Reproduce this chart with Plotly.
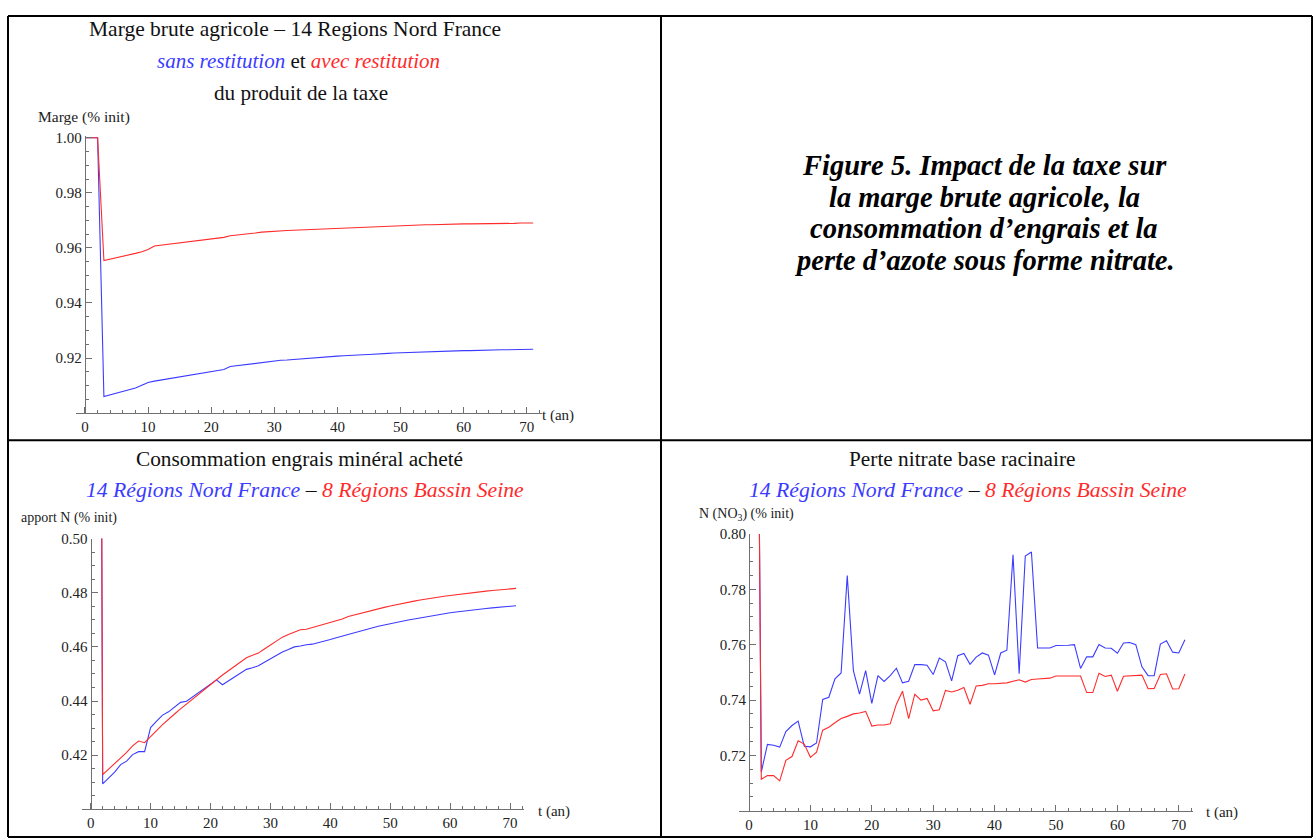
import plotly.graph_objects as go

W, H = 1316, 840

# ---------------- data ----------------
t = list(range(72))

marge_sans = [1.0, 1.0, 1.0, 0.906, 0.9066, 0.9072, 0.9079, 0.9085, 0.9091, 0.9101,
              0.9111, 0.9116, 0.912, 0.9124, 0.9128, 0.9132, 0.9136, 0.914, 0.9144, 0.9147,
              0.915, 0.9154, 0.9158, 0.9169, 0.9172, 0.9175, 0.9178, 0.918, 0.9183, 0.9187,
              0.919, 0.9192, 0.9193, 0.9195, 0.9196, 0.9198, 0.92, 0.9202, 0.9203, 0.9205,
              0.9207, 0.9208, 0.921, 0.9211, 0.9212, 0.9213, 0.9215, 0.9216, 0.9217, 0.9218,
              0.9219, 0.922, 0.9221, 0.9222, 0.9223, 0.9223, 0.9224, 0.9225, 0.9225, 0.9226,
              0.9227, 0.9227, 0.9228, 0.9228, 0.9229, 0.9229, 0.923, 0.923, 0.9231, 0.9231,
              0.9232, 0.9232]
marge_avec = [1.0, 1.0, 1.0, 0.9554, 0.9559, 0.9563, 0.9568, 0.9574, 0.958, 0.9586,
              0.9594, 0.9607, 0.961, 0.9613, 0.9616, 0.9619, 0.9622, 0.9625, 0.9628, 0.9631,
              0.9634, 0.9636, 0.9638, 0.9644, 0.9646, 0.9649, 0.9652, 0.9654, 0.9657, 0.9659,
              0.966, 0.9662, 0.9663, 0.9664, 0.9665, 0.9667, 0.9668, 0.9669, 0.967, 0.9671,
              0.9672, 0.9673, 0.9674, 0.9675, 0.9676, 0.9677, 0.9678, 0.9679, 0.9679, 0.968,
              0.9681, 0.9682, 0.9682, 0.9683, 0.9684, 0.9684, 0.9685, 0.9685, 0.9686, 0.9686,
              0.9687, 0.9687, 0.9687, 0.9688, 0.9688, 0.9688, 0.9689, 0.9689, 0.9689, 0.969,
              0.969, 0.969]

engrais_nord = [1.0, 1.0, 0.4094, 0.4116, 0.4137, 0.4165, 0.4178, 0.4202, 0.4213, 0.4213,
                0.4302, 0.4326, 0.4348, 0.436, 0.4378, 0.4395, 0.4399, 0.4415, 0.4432, 0.4448,
                0.4462, 0.4478, 0.446, 0.4474, 0.4489, 0.4505, 0.4517, 0.4523, 0.453, 0.4543,
                0.4556, 0.4569, 0.4581, 0.459, 0.46, 0.4603, 0.4608, 0.461, 0.4615, 0.462,
                0.4627, 0.4634, 0.464, 0.4648, 0.4654, 0.4659, 0.4665, 0.467, 0.4676, 0.4681,
                0.4686, 0.469, 0.4695, 0.4699, 0.4703, 0.4707, 0.4712, 0.4716, 0.4719, 0.4723,
                0.4726, 0.4729, 0.4732, 0.4735, 0.4738, 0.474, 0.4742, 0.4744, 0.4746, 0.4748,
                0.475, 0.4752]
engrais_seine = [1.0, 1.0, 0.4128, 0.4149, 0.417, 0.4188, 0.421, 0.4234, 0.4252, 0.4246,
                 0.4267, 0.4291, 0.4313, 0.4334, 0.4352, 0.4371, 0.4389, 0.4409, 0.4427, 0.4445,
                 0.4462, 0.4478, 0.4496, 0.4512, 0.4528, 0.4545, 0.456, 0.4569, 0.4577, 0.4592,
                 0.4607, 0.4621, 0.4636, 0.4646, 0.4655, 0.4663, 0.4665, 0.4671, 0.4677, 0.4684,
                 0.469, 0.4697, 0.4703, 0.4712, 0.4718, 0.4724, 0.473, 0.4736, 0.4741, 0.4746,
                 0.4751, 0.4756, 0.4761, 0.4765, 0.4769, 0.4773, 0.4777, 0.478, 0.4784, 0.4787,
                 0.479, 0.4793, 0.4796, 0.4799, 0.4802, 0.4804, 0.4806, 0.4808, 0.481, 0.4812,
                 0.4814, 0.4816]

nitrate_nord = [1.0, 1.0, 0.714, 0.724, 0.7237, 0.723, 0.7286, 0.7308, 0.7324, 0.7233,
                0.7231, 0.7245, 0.7402, 0.741, 0.7477, 0.7498, 0.785, 0.7506, 0.7421, 0.7506,
                0.7388, 0.7488, 0.7467, 0.7488, 0.7515, 0.7462, 0.7468, 0.7528, 0.7528, 0.7526,
                0.7492, 0.7552, 0.7538, 0.7469, 0.756, 0.7568, 0.7529, 0.7555, 0.757, 0.7562,
                0.7491, 0.757, 0.758, 0.7925, 0.7495, 0.792, 0.7935, 0.7588, 0.7588, 0.7588,
                0.7597, 0.7597, 0.7598, 0.76, 0.7514, 0.7556, 0.7556, 0.7601, 0.7588, 0.7587,
                0.7569, 0.7606, 0.7608, 0.76, 0.752, 0.7488, 0.7488, 0.7602, 0.7614, 0.7573,
                0.757, 0.7618]
nitrate_seine = [1.0, 1.0, 0.7114, 0.7127, 0.7127, 0.7108, 0.7182, 0.7196, 0.7253, 0.7241,
                 0.7193, 0.7212, 0.7291, 0.7302, 0.7318, 0.7333, 0.7341, 0.735, 0.7353, 0.7359,
                 0.7306, 0.731, 0.731, 0.7314, 0.7385, 0.7432, 0.7333, 0.7421, 0.74, 0.7406,
                 0.7361, 0.7365, 0.7435, 0.7429, 0.7435, 0.7445, 0.7385, 0.7451, 0.7453, 0.7459,
                 0.7459, 0.7461, 0.7462, 0.7468, 0.7473, 0.7465, 0.7474, 0.7476, 0.7478, 0.7479,
                 0.7487, 0.7487, 0.7487, 0.7487, 0.7487, 0.7427, 0.7427, 0.7497, 0.7485, 0.749,
                 0.7432, 0.7486, 0.7488, 0.749, 0.749, 0.7441, 0.7442, 0.7492, 0.7495, 0.744,
                 0.7441, 0.7494]

x_ticks = [0, 10, 20, 30, 40, 50, 60, 70]
y1_ticks = [0.92, 0.94, 0.96, 0.98, 1.00]
y2_ticks = [0.42, 0.44, 0.46, 0.48, 0.50]
y3_ticks = [0.72, 0.74, 0.76, 0.78, 0.80]

caption_lines = ["Figure 5. Impact de la taxe sur",
                 "la marge brute agricole, la",
                 "consommation d’engrais et la",
                 "perte d’azote sous forme nitrate."]

BLUE = "#3b3bff"
RED = "#ff2b2b"
FONT = "Liberation Serif"
AXC = "#707070"


def fx(p):
    return p / W


def fy(p):
    return 1 - p / H


fig = go.Figure()

panels = [
    dict(xr=[-1.5, 72.4], xp=[75.5, 542], yr=[0.9, 1.0007], yp=[409, 129], yt=y1_ticks,
         s1=marge_sans, s2=marge_avec),
    dict(xr=[-1.4, 72.3], xp=[82.3, 523.8], yr=[0.40, 0.50], yp=[809, 535.7], yt=y2_ticks,
         s1=engrais_nord, s2=engrais_seine),
    dict(xr=[-1.6, 72.3], xp=[739.2, 1192.9], yr=[0.70, 0.80], yp=[810.5, 531], yt=y3_ticks,
         s1=nitrate_nord, s2=nitrate_seine),
]

layout_axes = {}
for i, p in enumerate(panels, start=1):
    sfx = "" if i == 1 else str(i)
    xd = [fx(p["xp"][0]), fx(p["xp"][1])]
    yd = [fy(p["yp"][0]), fy(p["yp"][1])]
    pos = xd[0] + (0 - p["xr"][0]) / (p["xr"][1] - p["xr"][0]) * (xd[1] - xd[0])
    fig.add_trace(go.Scatter(x=t, y=p["s1"], mode="lines", line=dict(color=BLUE, width=1.1),
                             xaxis="x" + sfx, yaxis="y" + sfx, showlegend=False))
    fig.add_trace(go.Scatter(x=t, y=p["s2"], mode="lines", line=dict(color=RED, width=1.1),
                             xaxis="x" + sfx, yaxis="y" + sfx, showlegend=False))
    layout_axes["xaxis" + sfx] = dict(
        domain=xd, range=p["xr"], anchor="y" + sfx, showgrid=False, zeroline=False,
        showline=True, linecolor=AXC, linewidth=1.2, tickvals=x_ticks,
        ticks="inside", ticklen=6, tickcolor=AXC, tickwidth=1,
        tickfont=dict(family=FONT, size=15, color="#222"),
        minor=dict(dtick=2, tick0=0, ticks="inside", ticklen=3, tickcolor=AXC, showgrid=False),
    )
    layout_axes["yaxis" + sfx] = dict(
        domain=yd, range=p["yr"], anchor="free", position=pos, showgrid=False,
        zeroline=False, showline=True, linecolor=AXC, linewidth=1.2,
        tickvals=p["yt"], tickformat=".2f", ticks="inside", ticklen=6, tickcolor=AXC,
        tickwidth=1, tickfont=dict(family=FONT, size=15, color="#222"),
        minor=dict(dtick=0.005, tick0=0, ticks="inside", ticklen=3, tickcolor=AXC,
                   showgrid=False),
    )

annotations = []


def ann(text, x, y, size, anchor="center", color="#111"):
    annotations.append(dict(text=text, x=fx(x), y=fy(y), xref="paper", yref="paper",
                            xanchor=anchor, yanchor="middle", showarrow=False,
                            font=dict(family=FONT, size=size, color=color)))


b = lambda s: f"<span style='color:{BLUE}'>{s}</span>"
r = lambda s: f"<span style='color:{RED}'>{s}</span>"

# top-left
ann("Marge brute agricole – 14 Regions Nord France", 295, 21, 21.5)
ann(f"<i>{b('sans restitution')}</i> et <i>{r('avec restitution')}</i>", 298, 54, 21)
ann("du produit de la taxe", 301, 86, 21.2)
ann("Marge (% init)", 36, 110, 15.5, "left", "#222")
ann("t (an)", 540, 411, 15, "left", "#222")

# bottom-left
ann("Consommation engrais minéral acheté", 299, 455, 21.3)
ann(f"<i>{b('14 Régions Nord France')} – {r('8 Régions Bassin Seine')}</i>", 305, 487, 21.7)
ann("apport N (% init)", 19, 515, 14, "left", "#222")
ann("t (an)", 536, 811, 15, "left", "#222")

# bottom-right
ann("Perte nitrate base racinaire", 962, 455, 21.3)
ann(f"<i>{b('14 Régions Nord France')} – {r('8 Régions Bassin Seine')}</i>", 968, 487, 21.7)
ann("N (NO<sub>3</sub>) (% init)", 697, 511, 14, "left", "#222")
ann("t (an)", 1204, 812, 15, "left", "#222")

# top-right caption, one annotation per line
for k, line in enumerate(caption_lines):
    ann(f"<b><i>{line}</i></b>", 984, 159 + 32 * k, 28.5, "center", "#000")

# table borders
shapes = []
for (x0, y0, x1, y1) in [(8, 8, 1312, 8), (8, 436.5, 1312, 436.5), (8, 837, 1312, 837),
                         (8, 8, 8, 837), (661, 8, 661, 837), (1312, 8, 1312, 837)]:
    shapes.append(dict(type="line", xref="paper", yref="paper", x0=fx(x0), y0=fy(y0),
                       x1=fx(x1), y1=fy(y1), line=dict(color="black", width=2)))

fig.update_layout(width=W, height=H, margin=dict(l=0, r=0, t=0, b=0),
                  paper_bgcolor="white", plot_bgcolor="white",
                  annotations=annotations, shapes=shapes, **layout_axes)

fig.write_html("out.html", config={"displayModeBar": False})

# remove the default body margin of the page so the figure sits at (0, 0)
with open("out.html", "r", encoding="utf-8") as f:
    html = f.read()
html = html.replace("<head>", "<head><style>html,body{margin:0;padding:0;overflow:hidden;}</style>", 1)
with open("out.html", "w", encoding="utf-8") as f:
    f.write(html)
